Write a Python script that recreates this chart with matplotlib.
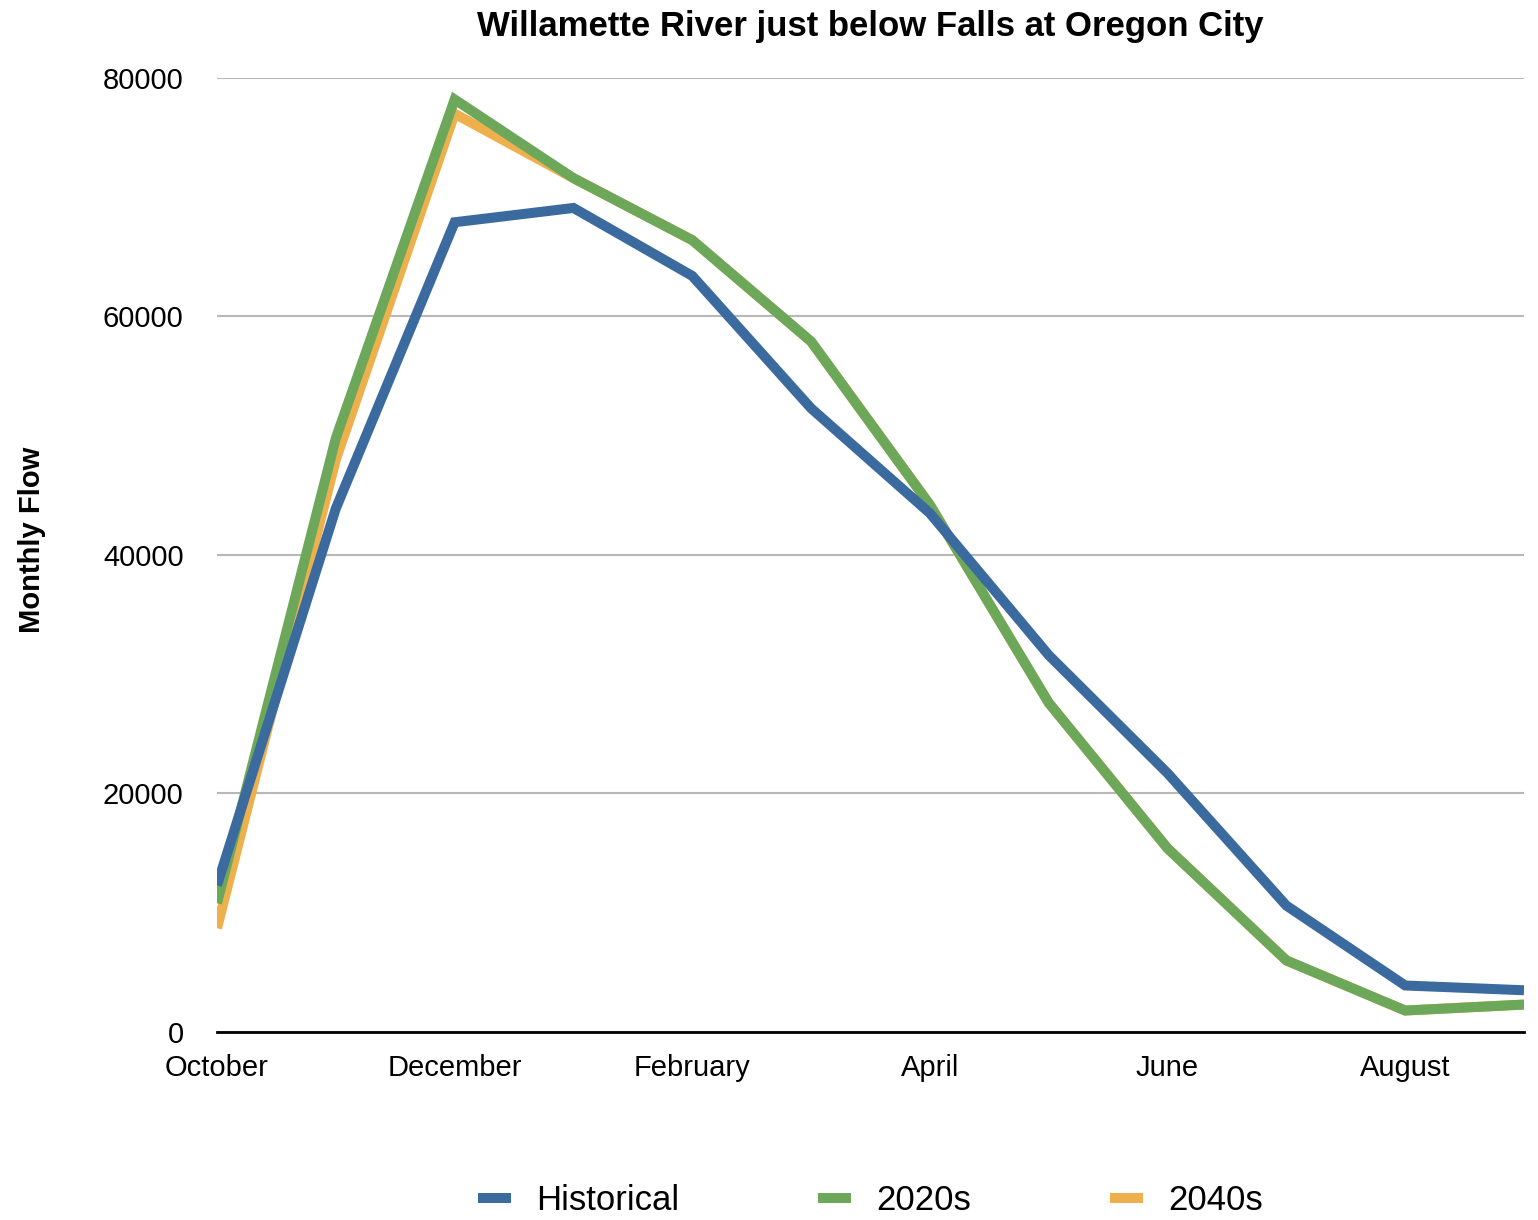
import matplotlib.pyplot as plt
import numpy as np

plt.rcParams["font.family"] = ["Liberation Sans", "DejaVu Sans"]

months = ["October", "November", "December", "January", "February", "March",
          "April", "May", "June", "July", "August", "September"]
historical = [12300, 43900, 67900, 69100, 63400, 52300, 43500, 31600, 21700, 10600, 3900, 3500]
flow_2020s = [10800, 49800, 78200, 71600, 66400, 57900, 44200, 27600, 15400, 6000, 1800, 2300]
flow_2040s = [8700, 48000, 77000, 71600, 66400, 57900, 44200, 27600, 15400, 6000, 1800, 2300]

x = np.arange(len(months))

fig = plt.figure(figsize=(15.38, 12.2), dpi=100)
ax = fig.add_axes([0.1411, 0.1541, 0.8498, 0.782])

lw = 7.2
ax.plot(x, historical, color="#3B6B9E", lw=lw, label="Historical", zorder=5,
        solid_joinstyle="miter", solid_capstyle="butt")
ax.plot(x, flow_2020s, color="#6DA75A", lw=lw, label="2020s", zorder=4,
        solid_joinstyle="miter", solid_capstyle="butt")
ax.plot(x, flow_2040s, color="#EDB04C", lw=lw, label="2040s", zorder=3,
        solid_joinstyle="miter", solid_capstyle="butt")

ax.set_xlim(0, 11)
ax.set_ylim(0, 80000)
ax.set_yticks([0, 20000, 40000, 60000, 80000])
ax.set_yticklabels(["0", "20000", "40000", "60000", "80000"])
ax.set_xticks(x[::2])
ax.set_xticklabels(months[::2])
ax.tick_params(axis="both", length=0, labelsize=21)
ax.tick_params(axis="y", pad=24)
ax.tick_params(axis="x", pad=16)

ax.grid(axis="y", color="#b8b8b8", lw=1.5)
ax.set_axisbelow(True)
for side in ["top", "right", "left"]:
    ax.spines[side].set_visible(False)
ax.spines["bottom"].set_color("black")
ax.spines["bottom"].set_linewidth(2)
ax.spines["bottom"].set_zorder(6)

ax.set_title("Willamette River just below Falls at Oregon City",
             fontsize=25, fontweight="bold", pad=30, x=0.5)
ax.set_ylabel("Monthly Flow", fontsize=21, fontweight="bold")
ax.yaxis.set_label_coords(-0.131, 0.516)

fig.legend(loc="center", bbox_to_anchor=(0.566, 0.016), ncol=3, frameon=False,
           fontsize=25, handlelength=0.95, handletextpad=0.72, columnspacing=4.0)

fig.savefig("out.png", dpi=100)
